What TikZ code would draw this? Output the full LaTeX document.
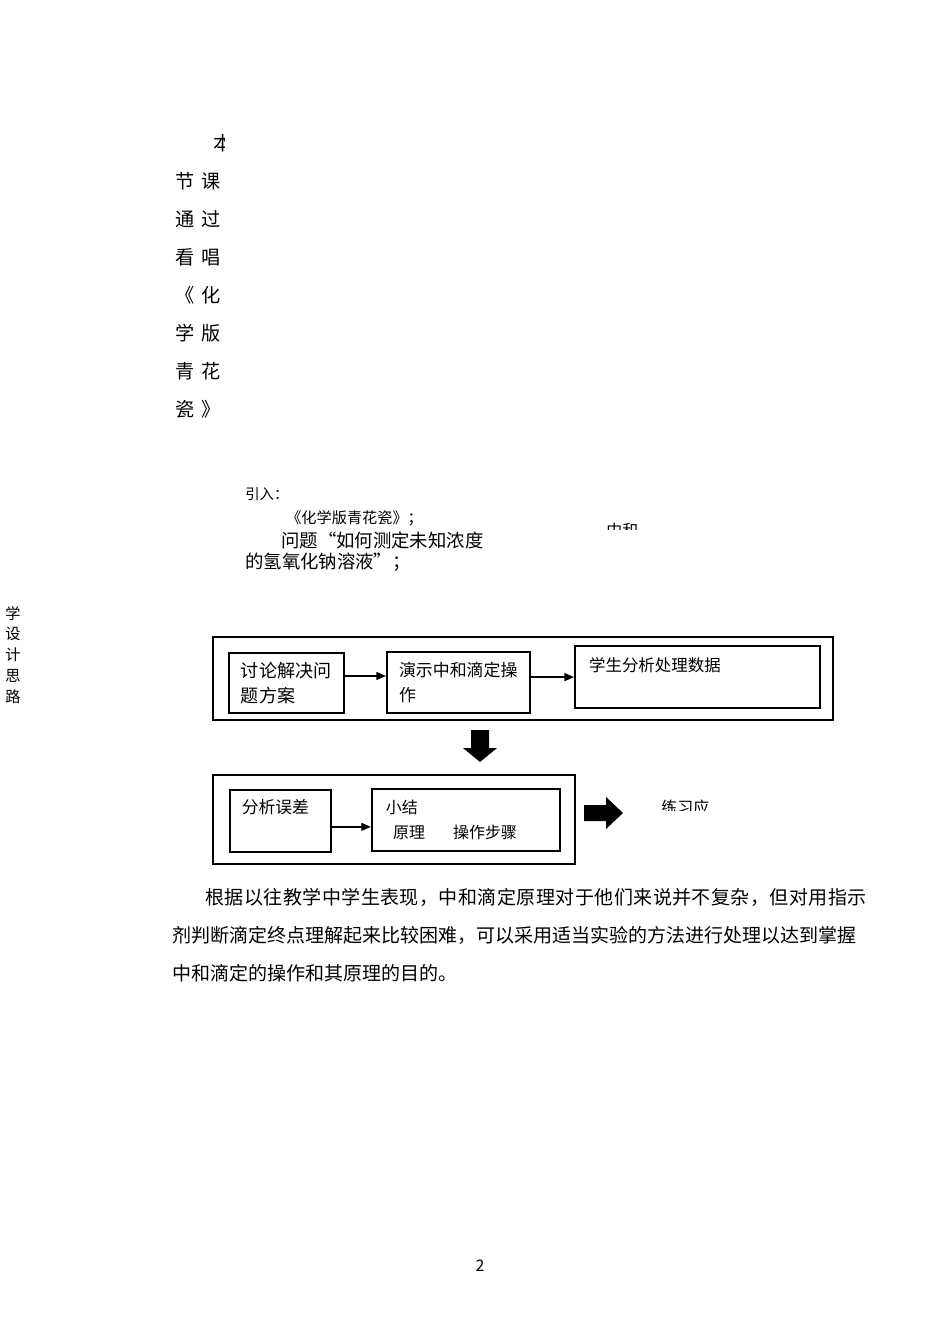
\documentclass[tikz,border=0pt]{standalone}
\usepackage{fontspec}
\setmainfont{Noto Sans CJK SC}
\newfontfamily\spaced[LetterSpace=2.4]{Noto Sans CJK SC}
\usetikzlibrary{arrows.meta}

\begin{document}
\begin{tikzpicture}[x=0.626pt, y=-0.626pt,
    box/.style={draw, line width=0.8pt, align=left, inner ysep=0pt},
    thickbox/.style={box, line width=1.3pt},
    frame/.style={draw, line width=1.4pt, inner sep=0pt},
    flow/.style={-{Triangle[length=6pt, width=5pt]}, line width=0.8pt},
    txt/.style={anchor=west, inner sep=0pt}]

  % \draw[help lines, gray!50, very thin] (0,0) grid[step=50] (950,1344);
  \useasboundingbox (0,0) rectangle (950,1344);

  \begin{scope}
    \clip (150,120) rectangle (224,170);
    \node[txt, font=\fontsize{12}{14}\selectfont] (ben) at (213,143) {本};
  \end{scope}
  \foreach \a/\b [count=\i] in {节/课, 通/过, 看/唱, 《/化, 学/版, 青/花, 瓷/》}
    \node[txt, font=\fontsize{12}{14}\selectfont] (col\i) at (175,143+38*\i) {\a\hspace{0.37em}\b};

  \node[txt, font=\fontsize{9}{11}\selectfont] (yin) at (245,494) {引入：};
  \node[txt, font=\fontsize{9.5}{11}\selectfont] (song) at (286,518) {《化学版青花瓷》；};
  \node[txt, font=\fontsize{11.5}{14}\selectfont] (q1) at (281,540) {问题“如何测定未知浓度};
  \node[txt, font=\fontsize{11.5}{14}\selectfont] (q2) at (245,562) {的氢氧化钠溶液”；};
  \begin{scope}
    \clip (590,505) rectangle (660,529);
    \node[txt, font=\fontsize{10}{12}\selectfont] (zh) at (606,530) {中和};
  \end{scope}

  \node[font=\fontsize{9.5}{13.1}\selectfont, align=center, inner sep=0pt] (side) at (13,655) {学\\设\\计\\思\\路};

  \node[frame, minimum width=388.1pt, minimum height=52pt] (stage1) at (523,678.5) {};
  \node[frame, minimum width=226.6pt, minimum height=55.7pt] (stage2) at (394,819.5) {};

  \node[box, font=\fontsize{11.3}{15.6}\selectfont, text width=57pt, inner xsep=7.5pt, minimum height=37.6pt] (talk) at (286.5,683) {讨论解决问\\题方案};
  \node[thickbox, font=\fontsize{10.6}{15.6}\selectfont, text width=74.5pt, inner xsep=7.5pt, minimum height=38.2pt] (demo) at (458.5,682.5) {演示中和滴定操\\作};
  \node[thickbox, anchor=north west, font=\fontsize{10.3}{12}\selectfont, text width=135.8pt, inner xsep=8.8pt, text height=15.7pt, text depth=23.2pt] (data) at (574,645) {学生分析处理数据};
  \node[box, anchor=north west, line width=1pt, font=\fontsize{10.5}{12}\selectfont, text width=48.2pt, inner xsep=7.5pt, text height=15pt, text depth=23.8pt] (err) at (229,789) {分析误差};
  \node[thickbox, font=\fontsize{10}{15.6}\selectfont, text width=100.2pt, inner xsep=8.8pt, minimum height=38.8pt] (summ) at (466,820) {小结\\\hspace*{0.45em}原理\hspace{1.75em}操作步骤};

  \draw[flow] ([yshift=4.4pt]talk.east) -- ([yshift=4.4pt]talk.east -| demo.west);
  \draw[flow] (data.west -| demo.east) -- (data.west);
  \draw[flow] ([yshift=-3.8pt]err.east) -- ([yshift=-3.8pt]err.east -| summ.west);

  \fill (471,730) -- (489,730) -- (489,748) -- (497,748) -- (480,762) -- (463,748) -- (471,748) -- cycle;
  \fill (584,805) -- (606,805) -- (606,797) -- (623,813) -- (606,829) -- (606,821) -- (584,821) -- cycle;

  \begin{scope}
    \clip (640,790) rectangle (730,810);
    \node[txt, font=\fontsize{10}{12}\selectfont] (lx) at (661,807) {练习应};
  \end{scope}

  \node[txt, font=\spaced\fontsize{11.9}{14}\selectfont] (p1) at (205,897) {根据以往教学中学生表现，中和滴定原理对于他们来说并不复杂，但对用指示};
  \node[txt, font=\fontsize{11.9}{14}\selectfont] (p2) at (172,935) {剂判断滴定终点理解起来比较困难，可以采用适当实验的方法进行处理以达到掌握};
  \node[txt, font=\fontsize{11.9}{14}\selectfont] (p3) at (172,973) {中和滴定的操作和其原理的目的。};
  \node[font=\fontsize{10}{12}\selectfont, inner sep=0pt] (pg) at (480,1266) {2};
\end{tikzpicture}
\end{document}
